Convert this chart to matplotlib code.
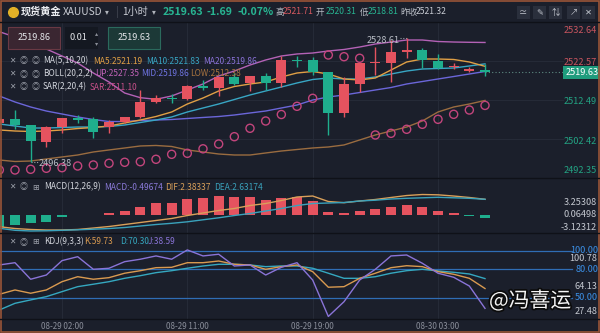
import matplotlib
matplotlib.use('Agg')
import matplotlib.pyplot as plt
from matplotlib.patches import Rectangle
from matplotlib.lines import Line2D
from matplotlib.transforms import blended_transform_factory
import matplotlib.patheffects as pe
import numpy as np

plt.rcParams['font.family'] = ['Noto Sans CJK SC', 'DejaVu Sans']

# ---------------- data ----------------
opens = [2506.56, 2507.51, 2506.04, 2501.73, 2505.45, 2507.77, 2507.59, 2505.45, 2506.89, 2508.03,
         2512.06, 2512.93, 2512.68, 2516.19, 2515.52, 2518.51, 2516.81, 2518.77, 2516.81, 2522.83,
         2522.83, 2519.65, 2509.06, 2516.55, 2521.97, 2522.13, 2524.81, 2525.41, 2522.65, 2520.94,
         2520.06, 2520.31]
highs = [2508.00, 2509.91, 2506.10, 2505.78, 2507.80, 2508.62, 2508.18, 2507.33, 2508.20, 2515.08,
         2513.79, 2514.05, 2516.40, 2517.66, 2518.51, 2519.39, 2518.80, 2519.39, 2523.86, 2523.86,
         2523.52, 2519.65, 2518.51, 2521.97, 2526.26, 2527.99, 2528.61, 2525.85, 2524.38, 2521.97,
         2521.10, 2521.71]
lows = [2506.00, 2505.01, 2496.38, 2500.43, 2503.97, 2506.48, 2502.60, 2503.97, 2506.48, 2507.77,
        2511.80, 2511.64, 2512.40, 2515.08, 2513.53, 2516.40, 2514.90, 2515.08, 2515.93, 2521.10,
        2518.95, 2503.46, 2508.03, 2514.64, 2518.95, 2517.22, 2523.27, 2520.68, 2520.43, 2520.43,
        2519.80, 2518.81]
closes = [2507.59, 2506.04, 2501.99, 2505.45, 2507.77, 2507.33, 2504.31, 2506.89, 2508.03, 2512.06,
          2512.93, 2512.68, 2516.19, 2515.52, 2518.51, 2516.63, 2518.77, 2516.96, 2522.83, 2522.65,
          2519.65, 2509.06, 2516.55, 2521.97, 2522.23, 2524.81, 2525.41, 2522.83, 2520.68, 2521.28,
          2520.50, 2519.63]

ma5 = [2504.75, 2504.49, 2504.36, 2504.49, 2504.75, 2505.13, 2505.39, 2505.78, 2506.56, 2507.33,
       2508.23, 2509.40, 2511.46, 2513.01, 2514.82, 2515.98, 2516.63, 2517.14, 2518.44, 2519.47,
       2519.86, 2519.21, 2517.92, 2517.66, 2518.18, 2520.24, 2522.31, 2523.08, 2523.08, 2522.96,
       2522.31, 2521.19]
ma10 = [2506.30, 2505.78, 2505.26, 2505.26, 2505.39, 2505.52, 2505.52, 2505.65, 2506.04, 2506.68,
        2507.33, 2508.11, 2509.40, 2510.43, 2511.46, 2512.62, 2513.79, 2514.82, 2515.85, 2516.89,
        2517.79, 2518.18, 2517.92, 2517.92, 2518.44, 2519.21, 2519.98, 2520.50, 2520.63, 2520.76,
        2521.28, 2521.83]
ma20 = [2513.53, 2511.98, 2510.69, 2509.65, 2508.88, 2508.11, 2507.46, 2506.94, 2506.94, 2507.20,
        2507.33, 2507.46, 2507.72, 2507.98, 2508.23, 2508.62, 2509.14, 2509.65, 2510.43, 2511.20,
        2512.49, 2513.27, 2513.79, 2514.43, 2515.08, 2515.72, 2516.63, 2517.27, 2517.92, 2518.56,
        2519.21, 2519.86]
boll_up = [2530.13, 2528.77, 2527.47, 2525.67, 2523.86, 2522.05, 2519.47, 2517.14, 2514.30, 2513.09,
           2512.68, 2513.53, 2515.08, 2516.63, 2518.69, 2519.98, 2521.53, 2522.83, 2523.86, 2524.38,
           2524.63, 2525.15, 2525.54, 2526.18, 2526.96, 2527.47, 2527.99, 2527.99, 2527.60, 2527.47,
           2527.40, 2527.35]
boll_low = [2497.00, 2496.61, 2496.74, 2497.26, 2497.78, 2498.29, 2499.07, 2499.59, 2500.10, 2500.62,
            2500.75, 2500.49, 2499.59, 2499.07, 2498.55, 2498.29, 2498.29, 2498.81, 2499.32, 2499.71,
            2500.10, 2500.36, 2500.88, 2502.17, 2503.46, 2504.49, 2505.52, 2507.07, 2509.40, 2510.69,
            2511.46, 2512.38]
sar = [2494.42, 2494.42, 2494.60, 2494.86, 2495.01, 2495.45, 2495.71, 2496.15, 2496.41, 2496.56,
       2497.18, 2498.47, 2498.73, 2499.89, 2501.13, 2503.02, 2505.19, 2507.07, 2508.75, 2510.87,
       2512.93, 2524.12, 2523.68, 2523.27, 2503.46, 2503.89, 2504.93, 2506.22, 2507.51, 2508.80,
       2509.91, 2511.10]

macd_hist = [-2.98, -2.59, -2.07, -1.68, -0.52, 0.18, 0.16, 0.65, 1.09, 2.20,
             3.24, 3.24, 4.20, 4.38, 4.97, 4.64, 4.64, 3.94, 4.38, 4.79,
             3.76, 0.75, 0.49, 1.09, 1.53, 2.05, 2.56, 2.05, 1.09, 0.49,
             -0.13, -0.65]
dif = [-2.98, -3.45, -3.70, -3.83, -3.83, -3.70, -3.32, -2.93, -2.41, -1.89,
       -1.37, -0.85, -0.08, 0.57, 1.22, 1.74, 2.51, 3.03, 3.81, 4.72,
       4.97, 3.55, 3.24, 3.68, 4.07, 4.59, 5.10, 5.36, 5.28, 4.97,
       4.59, 4.12]
dea = [-3.39, -3.91, -4.09, -4.04, -3.91, -3.78, -3.63, -3.45, -3.19, -2.80,
       -2.41, -2.10, -1.71, -1.19, -0.67, -0.08, 0.44, 1.09, 1.74, 2.51,
       3.03, 3.16, 3.29, 3.68, 3.89, 4.20, 4.38, 4.51, 4.64, 4.51,
       4.38, 4.12]

k_line = [53.6, 58.2, 54.7, 58.2, 67.0, 72.3, 69.6, 71.3, 76.0, 78.7,
          81.9, 82.3, 87.2, 87.2, 89.0, 85.5, 84.8, 80.2, 83.0, 84.8,
          77.7, 61.1, 61.7, 70.6, 76.0, 81.9, 84.0, 83.0, 77.7, 74.9,
          70.6, 59.73]
d_line = [36.9, 44.0, 47.6, 51.1, 56.4, 61.7, 64.3, 67.0, 70.6, 73.4,
          76.6, 78.7, 81.3, 83.7, 85.5, 85.5, 84.8, 83.0, 83.7, 83.7,
          81.3, 76.0, 70.6, 70.6, 72.3, 76.0, 78.7, 80.2, 78.4, 77.0,
          75.2, 70.30]
j_line = [84.8, 87.2, 69.6, 74.1, 89.4, 93.6, 80.2, 81.3, 88.3, 90.9,
          94.4, 90.9, 100.78, 94.4, 96.2, 83.7, 84.8, 74.1, 82.3, 87.2,
          68.8, 30.0, 45.7, 68.8, 80.2, 94.4, 95.4, 86.6, 76.0, 71.7,
          62.4, 38.59]

time_ticks = [4, 12, 20, 28]
time_labels = ['08-29 02:00', '08-29 11:00', '08-29 19:00', '08-30 03:00']
main_ticks = [2532.64, 2522.57, 2512.49, 2502.42, 2492.35]
macd_ticks = [3.25308, 0.06498, -3.12312]
kdj_levels = [100.0, 80.0, 50.0]
kdj_ticks = [100.78, 64.13, 27.48]

# ---------------- style ----------------
W, H = 600, 333
BG = '#1b1f2b'
RED = '#e5535f'
GREEN = '#1fae8d'
GRID = '#252a37'
C_MA5 = '#e09f45'
C_MA10 = '#38a6c4'
C_MA20 = '#6b66d9'
C_UP = '#b462b6'
C_LOW = '#9a6c40'
C_SAR = '#c2457c'
C_J = '#8a74d8'
TXT = '#d2d5dc'
GREY = '#9a9ea8'

fig = plt.figure(figsize=(6, 3.33), dpi=100)
fig.patch.set_facecolor(BG)


def fx(x):
    return x / W


def fy(y):
    return 1 - y / H


XL = (0.043, 38.34)


def add_ax(top, bottom):
    ax = fig.add_axes([0, fy(bottom), 1, (bottom - top) / H])
    ax.set_facecolor(BG)
    for s in ax.spines.values():
        s.set_visible(False)
    ax.tick_params(left=False, right=False, bottom=False, top=False,
                   labelleft=False, labelbottom=False)
    ax.set_xlim(*XL)
    for t in time_ticks:
        ax.axvline(t, color=GRID, lw=0.8, zorder=0)
    return ax


x = np.arange(len(closes))
plot_frac = 563 / W

# ---------------- main pane ----------------
ax = add_ax(22, 178)
ax.set_ylim(2492.35, 2532.64)
for v in main_ticks[1:4]:
    ax.axhline(v, xmax=plot_frac, color=GRID, lw=0.8, zorder=0)

ax.plot(x, boll_up, color=C_UP, lw=1.0, zorder=2)
ax.plot(x, boll_low, color=C_LOW, lw=1.0, zorder=2)
ax.plot(x, ma20, color=C_MA20, lw=1.0, zorder=2)
ax.plot(x, ma10, color=C_MA10, lw=1.0, zorder=2)
ax.plot(x, ma5, color=C_MA5, lw=1.0, zorder=2)
ax.scatter(x, sar, s=34, facecolors='none', edgecolors=C_SAR, linewidths=1.0, zorder=2)

for i in range(len(closes)):
    o, h, l, c = opens[i], highs[i], lows[i], closes[i]
    col = RED if c >= o else GREEN
    ax.vlines(i, l, h, color=col, lw=1.0, zorder=3)
    lo = min(o, c)
    hgt = max(abs(c - o), 0.25)
    ax.bar(i, hgt, bottom=lo, width=0.64, color=col, zorder=3, linewidth=0)

# current price line & tag
last = closes[-1]
ax.plot([x[-1], XL[0] + (XL[1] - XL[0]) * plot_frac], [last, last], ls=(0, (1, 2)),
        color='#5f8a82', lw=0.8, zorder=1)
bt = blended_transform_factory(ax.transAxes, ax.transData)
ax.text(582 / W, last, f'{last:.2f}', transform=bt, ha='center', va='center',
        fontsize=6.6, color='white', zorder=6,
        bbox=dict(boxstyle='square,pad=0.22', fc='#1f9c7d', ec='none'))

main_colors = ['#c9555f', '#c9555f', '#23a383', '#23a383', '#23a383']
main_offs = [-9, -2, -1, -2, 7]
for v, col, off in zip(main_ticks, main_colors, main_offs):
    ax.annotate(f'{v:.2f}', xy=(597 / W, v), xycoords=bt, xytext=(0, off),
                textcoords='offset pixels', ha='right', va='center', fontsize=6.6, color=col)

# high / low markers
hi_i = int(np.argmax(highs))
lo_i = int(np.argmin(lows))
ax.plot([hi_i - 0.45, hi_i], [highs[hi_i]] * 2, ls=(0, (1, 1.5)), color='#9a9ea8', lw=0.8)
ax.annotate(f'{highs[hi_i]:.2f}', xy=(hi_i - 0.48, highs[hi_i]), xytext=(0, -3),
            textcoords='offset pixels', ha='right', va='center', fontsize=6.6, color='#b9bdc6')
ax.plot([lo_i, lo_i + 0.5], [lows[lo_i]] * 2, ls=(0, (1, 1.5)), color='#9a9ea8', lw=0.8)
ax.annotate(f'{lows[lo_i]:.2f}', xy=(lo_i + 0.52, lows[lo_i]), xytext=(0, -1),
            textcoords='offset pixels', ha='left', va='center', fontsize=6.6, color='#b9bdc6')

# ---------------- MACD pane ----------------
axm = add_ax(178, 233)
axm.set_ylim(-4.61, 9.64)
mcols = [RED if v >= 0 else GREEN for v in macd_hist]
axm.bar(x, macd_hist, width=0.64, color=mcols, linewidth=0, zorder=2)
axm.plot(x, dif, color='#d9a05a', lw=1.0, zorder=3)
axm.plot(x, dea, color='#3aa2bc', lw=1.0, zorder=3)
btm = blended_transform_factory(axm.transAxes, axm.transData)
for v in macd_ticks:
    axm.text(597 / W, v, f'{v:.5f}', transform=btm, ha='right', va='center',
             fontsize=6.6, color='#c4c8d0')

# ---------------- KDJ pane ----------------
axk = add_ax(233, 319)
axk.set_ylim(27.3, 118.8)
for v in kdj_levels:
    axk.axhline(v, xmax=572 / W, color='#2f6db5', lw=0.9, zorder=1)
axk.plot(x, d_line, color='#35a8c0', lw=1.0, zorder=3)
axk.plot(x, k_line, color='#d99a50', lw=1.0, zorder=3)
axk.plot(x, j_line, color=C_J, lw=1.0, zorder=3)
btk = blended_transform_factory(axk.transAxes, axk.transData)
for v in kdj_levels:
    axk.text(598 / W, v, f'{v:.2f}', transform=btk, ha='right', va='center',
             fontsize=6.6, color='#3b8fe6', zorder=5)
for v, off in zip(kdj_ticks, [-9, -2, 7]):
    axk.annotate(f'{v:.2f}', xy=(597 / W, v), xycoords=btk, xytext=(0, off),
                 textcoords='offset pixels', ha='right', va='center', fontsize=6.6,
                 color='#c4c8d0')
axk.set_xticks(time_ticks)
axk.set_xticklabels(time_labels)
axk.tick_params(labelbottom=True, length=0, pad=2.0, labelsize=5.8, labelcolor='#8a8e9a')

# ---------------- separators & border ----------------
for yy in (22, 178, 233, 319):
    fig.add_artist(Line2D([0, 1], [fy(yy), fy(yy)], color='#0f1118', lw=1.0,
                          transform=fig.transFigure))
fig.add_artist(Rectangle((0.001, 0.002), 0.998, 0.996, transform=fig.transFigure,
                         fill=False, edgecolor='#9a5538', lw=1.2))

# ---------------- header ----------------
def T(xp, yp, s, color=TXT, size=6.0, weight='normal', ha='left', **kw):
    fig.text(fx(xp), fy(yp), s, color=color, fontsize=size, fontweight=weight,
             ha=ha, va='center', **kw)


fig.add_artist(Line2D([fx(13)], [fy(12)], marker='o', markersize=7, color='#e2b127',
                      transform=fig.transFigure))
T(21, 12, '现货黄金', color='#eceef2', size=7.3, weight='bold')
T(63, 12, 'XAUUSD', color='#c9ccd4', size=7.3)
T(105, 12, '▾', color='#b0b4bc', size=5.5)
T(116, 12, '|', color='#4a4e5a', size=7)
T(122, 12, '1小时', color='#c9ccd4', size=7.3)
T(152, 12, '▾', color='#b0b4bc', size=5.5)
T(163, 12, '2519.63', color='#28b592', size=7.6, weight='bold')
T(207, 12, '-1.69', color='#28b592', size=7.6, weight='bold')
T(238, 12, '-0.07%', color='#28b592', size=7.6, weight='bold')
T(275, 12, '高', color='#b8bcc4', size=6.2)
T(283, 12, '2521.71', color='#d95a60', size=6.2)
T(316, 12, '开', color='#b8bcc4', size=6.2)
T(326, 12, '2520.31', color='#28b592', size=6.2)
T(360, 12, '低', color='#b8bcc4', size=6.2)
T(368, 12, '2518.81', color='#28b592', size=6.2)
T(400, 12, '昨收', color='#b8bcc4', size=6.2)
T(416, 12, '2521.32', color='#c9ccd4', size=6.2)

for bx, g in zip([517, 533, 549, 567, 582], ['≃', '✎', '⇅', '↗', '✕']):
    fig.add_artist(Rectangle((fx(bx), fy(19)), 13 / W, 13 / H, transform=fig.transFigure,
                             fc='#2a2f3c', ec='none'))
    T(bx + 6.5, 12.5, g, color='#c4c8d0', size=6.0, ha='center')

# order boxes
fig.add_artist(Rectangle((fx(8), fy(49)), 52 / W, 22 / H, transform=fig.transFigure,
                         fc='#3a2631', ec='#6a3944', lw=0.8))
T(34, 38, '2519.86', color='#e2e4e8', size=6.6, ha='center')
fig.add_artist(Rectangle((fx(65), fy(49)), 33 / W, 22 / H, transform=fig.transFigure,
                         fc='#141821', ec='none'))
T(78, 38, '0.01', color='#e2e4e8', size=6.6, ha='center')
T(97, 33, '▴', color='#8a8e98', size=4.5, ha='center')
T(97, 43, '▾', color='#8a8e98', size=4.5, ha='center')
fig.add_artist(Rectangle((fx(108), fy(49)), 52 / W, 22 / H, transform=fig.transFigure,
                         fc='#1c3937', ec='#2b6a5d', lw=0.8))
T(134, 38, '2519.63', color='#e2e4e8', size=6.6, ha='center')

# indicator legends
ICON = '#9ca0aa'


def icons(yp, third='◎'):
    T(9, yp, '✕', color=ICON, size=5.5)
    T(20, yp, '◎', color=ICON, size=5.8)
    T(32, yp, third, color=ICON, size=5.8)


LS = 6.0
icons(61)
T(43, 61, 'MA(5,10,20)', color=TXT, size=LS)
T(93, 61, 'MA5:2521.19', color=C_MA5, size=LS)
T(146, 61, 'MA10:2521.83', color=C_MA10, size=LS)
T(203, 61, 'MA20:2519.86', color='#8a72d8', size=LS)
icons(74)
T(43, 74, 'BOLL(20,2,2)', color=TXT, size=LS)
T(95, 74, 'UP:2527.35', color='#c263b8', size=LS)
T(141, 74, 'MID:2519.86', color='#6f74e2', size=LS)
T(190, 74, 'LOW:2512.38', color='#a8743f', size=LS)
icons(87)
T(43, 87, 'SAR(2,20,4)', color=TXT, size=LS)
T(90, 87, 'SAR:2511.10', color='#c8508a', size=LS)

icons(187, '⊞')
T(44, 187, 'MACD(12,26,9)', color=TXT, size=LS)
T(104, 187, 'MACD:-0.49674', color='#8a7ad8', size=LS)
T(165, 187, 'DIF:2.38337', color='#d9a05a', size=LS)
T(214, 187, 'DEA:2.63174', color='#3aa2bc', size=LS)

icons(242, '⊞')
T(44, 242, 'KDJ(9,3,3)', color=TXT, size=LS)
T(84, 242, 'K:59.73', color='#d99a50', size=LS)
T(120, 242, 'D:70.30', color='#35a8c0', size=LS)
T(148, 242, 'J:38.59', color=C_J, size=LS)

# watermark
fig.text(fx(489), fy(301), '@冯喜运', color='#f5f5f5', fontsize=15, ha='left', va='center',
         path_effects=[pe.withStroke(linewidth=2.5, foreground='#0c0c0c')], zorder=10)

fig.savefig('out.png', dpi=100, facecolor=BG)
